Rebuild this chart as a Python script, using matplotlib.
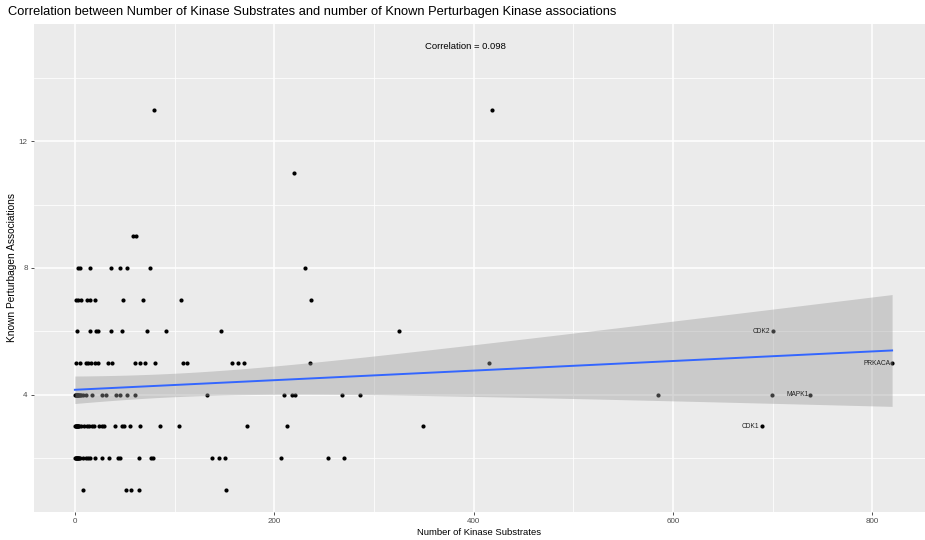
import numpy as np
import matplotlib
matplotlib.use("Agg")
import matplotlib.pyplot as plt

plt.rcParams['font.family'] = ['Liberation Sans', 'DejaVu Sans']

# number of kinase substrates, grouped by known perturbagen associations
# (the dense cluster near x=0 hides overplotted points, listed at the end of rows 2-4)
subs_1 = [8, 51, 56, 64, 152]
subs_2 = [1, 3, 8, 11, 13, 15, 20, 27, 34, 43, 45, 64, 76, 78, 138, 145, 151, 207, 254, 270,
          0, 1, 2, 3, 4, 5, 2]
subs_3 = [1, 3, 6, 9, 12, 14, 17, 19, 24, 27, 29, 40, 47, 49, 55, 65, 85, 104, 173, 213, 349, 689,
          0, 1, 2, 3, 4, 2]
subs_4 = [1, 3, 6, 8, 11, 17, 27, 31, 41, 45, 52, 60, 133, 210, 218, 221, 268, 286, 585, 699, 738,
          0, 1, 2, 3, 4, 5, 2]
subs_5 = [1, 5, 11, 13, 16, 20, 23, 33, 37, 60, 65, 70, 80, 109, 113, 158, 164, 170, 236, 416, 820]
subs_6 = [2, 15, 21, 23, 36, 47, 72, 91, 147, 325, 700]
subs_7 = [1, 3, 6, 12, 15, 20, 48, 68, 106, 237]
subs_8 = [3, 5, 15, 36, 45, 52, 75, 231]
subs_9 = [58, 61]
subs_11 = [220]
subs_13 = [79, 419]

levels = [1, 2, 3, 4, 5, 6, 7, 8, 9, 11, 13]
groups = [subs_1, subs_2, subs_3, subs_4, subs_5, subs_6, subs_7, subs_8, subs_9, subs_11, subs_13]

label_names = ["CDK2", "PRKACA", "MAPK1", "CDK1"]
label_x = [700, 820, 738, 689]
label_y = [6, 5, 4, 3]

corr_text = "Correlation = 0.098"

x = np.concatenate([np.array(g, float) for g in groups])
y = np.concatenate([np.full(len(g), lv, float) for g, lv in zip(groups, levels)])

fig = plt.figure(figsize=(9.25, 5.4), dpi=100)
ax = fig.add_axes([34 / 925, 28 / 540, 891 / 925, 488 / 540])
ax.set_facecolor('#EBEBEB')
for s in ax.spines.values():
    s.set_visible(False)

ax.set_xlim(-41, 853)
ax.set_ylim(0.3, 15.7)
ax.set_xticks([0, 200, 400, 600, 800])
ax.set_xticks([100, 300, 500, 700], minor=True)
ax.set_yticks([4, 8, 12])
ax.set_yticks([2, 6, 10, 14], minor=True)
ax.grid(which='major', color='white', lw=1.1)
ax.grid(which='minor', color='white', lw=0.55)
ax.set_axisbelow(True)
ax.tick_params(which='major', length=2.5, width=0.6, color='#333333',
               labelsize=5.8, labelcolor='#4D4D4D', pad=2)
ax.tick_params(which='minor', length=0)

ax.scatter(x, y, s=9, color='black', zorder=2, linewidths=0)

# linear fit with 95% confidence band
n = len(x)
slope, intercept = np.polyfit(x, y, 1)
xs = np.linspace(x.min(), x.max(), 80)
resid = y - (slope * x + intercept)
sigma = np.sqrt(np.sum(resid ** 2) / (n - 2))
sxx = np.sum((x - x.mean()) ** 2)
se = sigma * np.sqrt(1 / n + (xs - x.mean()) ** 2 / sxx)
yfit = slope * xs + intercept
tq = 1.98
ax.fill_between(xs, yfit - tq * se, yfit + tq * se, color='#999999', alpha=0.4,
                lw=0, zorder=3)
ax.plot(xs, yfit, color='#3366FF', lw=1.4, zorder=4)

for name, lx, ly in zip(label_names, label_x, label_y):
    ax.annotate(name, (lx, ly), xytext=(-1.5, 0), textcoords='offset points',
                ha='right', va='center', fontsize=4.8, color='#222222', zorder=5)

ax.text(392, 15, corr_text, ha='center', va='center', fontsize=6.8, color='black')

ax.set_xlabel('Number of Kinase Substrates', fontsize=6.8, labelpad=2)
ax.set_ylabel('Known Perturbagen Associations', fontsize=7.3, labelpad=1)
fig.text(8 / 925, 1 - 12 / 540, 'Correlation between Number of Kinase Substrates and number of Known Perturbagen Kinase associations',
         ha='left', va='center', fontsize=9.3)

fig.savefig('out.png', dpi=100)
